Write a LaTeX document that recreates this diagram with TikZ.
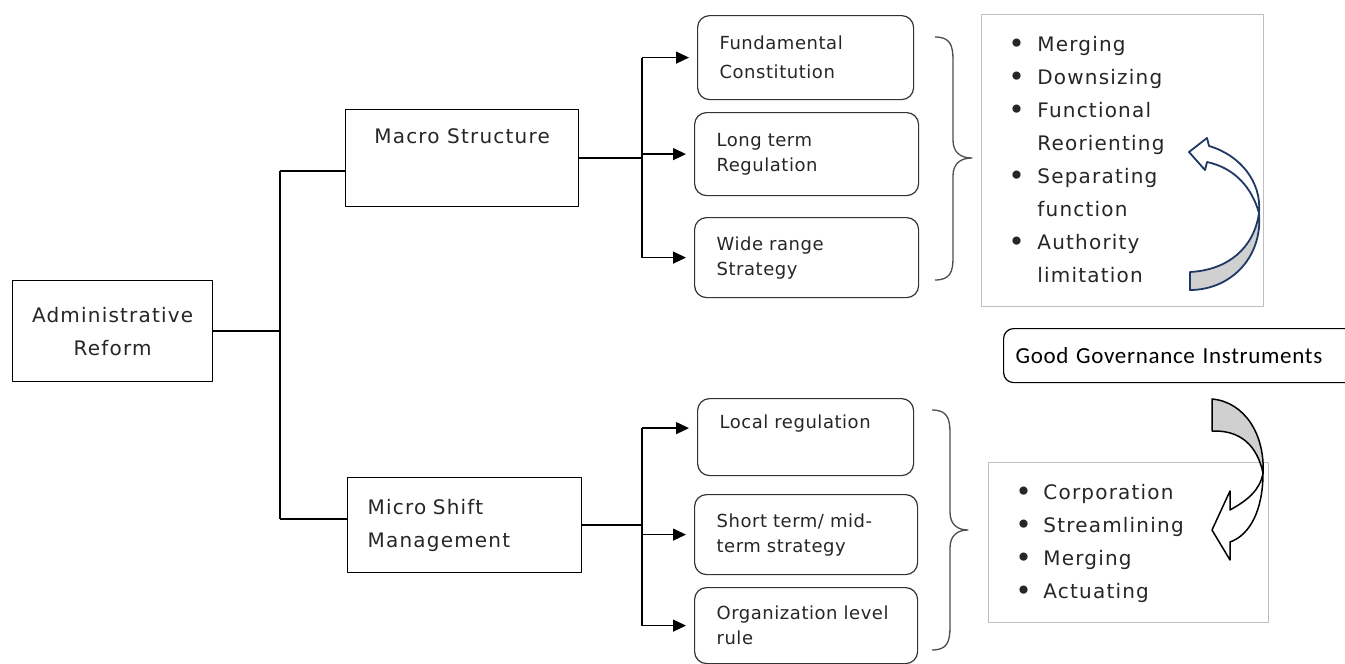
\documentclass[tikz,border=0pt]{standalone}
\usepackage{fontspec}
\usepackage{tikz}
\usetikzlibrary{arrows.meta}
\usetikzlibrary{positioning,calc}
\newfontfamily\boxfont{DejaVu Sans}[LetterSpace=6]
\newfontfamily\roundfont{DejaVu Sans}[LetterSpace=3]
\newfontfamily\ggfont{Carlito}[LetterSpace=3]
\definecolor{navyArrow}{HTML}{1F3864}
\definecolor{boxGrey}{HTML}{333333}
\definecolor{listGrey}{HTML}{BFBFBF}
\definecolor{braceGrey}{HTML}{4D4D4D}
\definecolor{tailGrey}{HTML}{D0D0D0}
\tikzset{
    sqBox/.style={
        ,   rectangle
        ,   draw=black
        ,   line width=1.2pt
        ,   anchor=north west
        ,   text=black!85
        ,   font={\boxfont\fontsize{20}{33}\selectfont}
    },
    rdBox/.style={
        ,   rectangle
        ,   rounded corners=12pt
        ,   draw=boxGrey
        ,   line width=1.2pt
        ,   anchor=north west
        ,   inner xsep=22pt
        ,   align=left
        ,   text=black!85
        ,   font={\roundfont\fontsize{18}{25}\selectfont}
    },
    listBox/.style={
        ,   rectangle
        ,   draw=listGrey
        ,   line width=0.8pt
        ,   anchor=north west
        ,   inner xsep=27pt
        ,   align=left
        ,   text=black!85
        ,   font={\boxfont\fontsize{20}{33}\selectfont}
    },
    wire/.style={
        ,   draw=black
        ,   line width=1.3pt
    },
    brace/.style={
        ,   draw=braceGrey
        ,   line width=1.3pt
    }
}
\newcommand\bulletrow{\raisebox{-2pt}{\fontsize{28}{33}\selectfont\textbullet}}

\begin{document}
\begin{tikzpicture}[x=1pt,y=-1pt
                ,>={Triangle[length=13pt,width=12pt]}
                ,line join=round]
    \useasboundingbox (0,0) rectangle (1345,664);

    % left column
    \node[sqBox, align=center, minimum width=200pt, minimum height=101pt] (admin) at (12,280) {Administrative\\Reform};
    \node[sqBox, minimum width=233pt, inner ysep=0pt, text height=33.5pt, text depth=63.5pt] (macro) at (345,109) {Macro Structure};
    \node[sqBox, align=left, inner xsep=20pt, text width=194pt, minimum height=95pt] (micro) at (347,477) {Micro Shift\\Management};

    % rounded boxes
    \node[rdBox, text width=172pt, minimum height=84pt] (fund) at (697,15) {Fundamental\\[4pt]Constitution};
    \node[rdBox, text width=180pt, minimum height=83pt] (long) at (694,112) {Long term\\Regulation};
    \node[rdBox, text width=180pt, minimum height=80pt] (wide) at (694,217) {Wide range\\Strategy};
    \node[rdBox, text width=172pt, inner ysep=0pt, text height=29.5pt, text depth=47.5pt] (local) at (697,398) {Local regulation};
    \node[rdBox, text width=179pt, minimum height=80pt] (short) at (694,494) {Short term/ mid-\\term strategy};
    \node[rdBox, text width=179pt, minimum height=76pt] (org) at (694,587) {Organization level\\rule};

    % lists
    \node[listBox, text width=228pt, minimum height=292pt] (macroList) at (981,14) {%
        \begin{tabular}{@{}p{29pt}@{}l@{}}
        \bulletrow & Merging\\
        \bulletrow & Downsizing\\
        \bulletrow & Functional\\
                   & Reorienting\\
        \bulletrow & Separating\\
                   & function\\
        \bulletrow & Authority\\
                   & limitation
        \end{tabular}};
    \node[listBox, text width=226pt, minimum height=160pt] (microList) at (988,462) {%
        \begin{tabular}{@{}p{28pt}@{}l@{}}
        \bulletrow & Corporation\\
        \bulletrow & Streamlining\\
        \bulletrow & Merging\\
        \bulletrow & Actuating
        \end{tabular}};

    \node[rdBox, rounded corners=10pt, draw=black, inner xsep=12pt, text width=336pt, minimum height=54pt,
          text=black, font={\ggfont\fontsize{23}{28}\selectfont}] (gg) at (1003,328) {Good Governance Instruments};

    % connectors
    \coordinate (trunk) at (280,0);
    \coordinate (fork) at (642,0);
    \coordinate (trunkTop) at (280,171);
    \coordinate (trunkBot) at (280,519);
    \draw[wire] (admin.east) -- (admin.east -| trunk);
    \draw[wire] (trunkTop) -- (trunkBot);
    \draw[wire] (trunkTop) -- (trunkTop -| macro.west);
    \draw[wire] (trunkBot) -- (trunkBot -| micro.west);

    \coordinate (macroFork) at (macro.east -| fork);
    \coordinate (microFork) at (micro.east -| fork);
    \draw[wire] (macro.east) -- (macroFork);
    \draw[wire] (micro.east) -- (microFork);
    \draw[wire] (macroFork |- fund.west) -- (macroFork |- wide.west);
    \draw[wire] (microFork |- local.base west) -- (microFork |- org.west);
    \foreach \b/\a in {fund/west,long/west,wide/west}{
        \draw[wire,->,shorten >=8pt] (macroFork |- \b.\a) -- (\b.\a);
    }
    \foreach \b/\a in {local/base west,short/west,org/west}{
        \draw[wire,->,shorten >=8pt] (microFork |- \b.\a) -- (\b.\a);
    }

    % braces
    \draw[brace] (935,37) .. controls (950,37) and (953,45) .. (953,60) -- (953,140)
        .. controls (953,152) and (960,158) .. (972,158)
        .. controls (960,158) and (953,164) .. (953,176) -- (953,258)
        .. controls (953,272) and (950,280) .. (935,280);
    \draw[brace] (932,410) .. controls (947,410) and (950,418) .. (950,433) -- (950,512)
        .. controls (950,524) and (957,530) .. (968,530)
        .. controls (957,530) and (950,536) .. (950,548) -- (950,627)
        .. controls (950,642) and (947,650) .. (932,650);

    % curved arrows
    \filldraw[draw=navyArrow, fill=tailGrey, line width=1.8pt]
        (1259,213) .. controls (1263,258) and (1230,290) .. (1190,290) -- (1190,272)
        .. controls (1228,270) and (1254,248) .. (1259,213) -- cycle;
    \filldraw[draw=navyArrow, fill=white, line width=1.8pt]
        (1209,146) .. controls (1240,155) and (1262,182) .. (1259,213)
        .. controls (1252,188) and (1235,168) .. (1207,162)
        -- (1205,170) -- (1189,152) -- (1207,138) -- cycle;
    \filldraw[draw=black, fill=tailGrey, line width=1.5pt]
        (1212,399) .. controls (1245,402) and (1265,435) .. (1263,473)
        .. controls (1257,445) and (1240,430) .. (1212,431) -- cycle;
    \filldraw[draw=black, fill=white, line width=1.5pt]
        (1263,473) .. controls (1263,510) and (1250,535) .. (1230,542)
        -- (1230,560) -- (1212,530) -- (1230,491) -- (1230,510)
        .. controls (1248,500) and (1260,490) .. (1263,473) -- cycle;
\end{tikzpicture}
\end{document}
